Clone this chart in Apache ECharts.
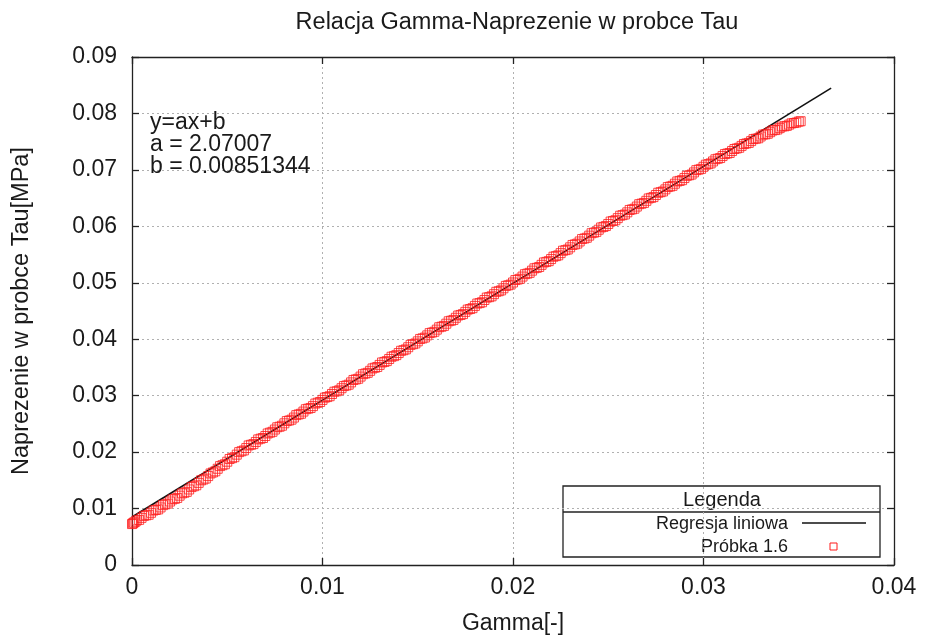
<!DOCTYPE html>
<html>
<head>
<meta charset="utf-8">
<script src="https://cdn.jsdelivr.net/npm/echarts@6/dist/echarts.min.js"></script>
<style>html,body{margin:0;padding:0;background:#fff}#c{width:925px;height:642px}</style>
</head>
<body>
<div id="c"></div>
<script>
// ---- data ----
const titleText = 'Relacja Gamma-Naprezenie w probce Tau';
const xName = 'Gamma[-]';
const yName = 'Naprezenie w probce Tau[MPa]';
const xTickLabels = ['0', '0.01', '0.02', '0.03', '0.04'];
const yTickLabels = ['0', '0.01', '0.02', '0.03', '0.04', '0.05', '0.06', '0.07', '0.08', '0.09'];
const fitText = ['y=ax+b', 'a = 2.07007', 'b = 0.00851344'];
const legendTitle = 'Legenda';
const lineName = 'Regresja liniowa';
const sampleName = 'Próbka 1.6';

// regression line end points
const fitLineX = [0, 0.0367];
const fitLineY = [0.00851, 0.08449];

// sample points (Gamma, Tau) - first set of readings
const gammaX = [
  0.00000, 0.00005, 0.00010, 0.00018, 0.00025, 0.00050, 0.00075, 0.00100, 0.00125, 0.00150,
  0.00175, 0.00200, 0.00225, 0.00250, 0.00275, 0.00300, 0.00325, 0.00350, 0.00375, 0.00400,
  0.00425, 0.00450, 0.00475, 0.00500, 0.00525, 0.00550, 0.00575, 0.00600, 0.00625, 0.00650,
  0.00675, 0.00700, 0.00725, 0.00750, 0.00775, 0.00800, 0.00825, 0.00850, 0.00875, 0.00900,
  0.00925, 0.00950, 0.00975, 0.01000, 0.01025, 0.01050, 0.01075, 0.01100, 0.01125, 0.01150,
  0.01175, 0.01200, 0.01225, 0.01250, 0.01275, 0.01300, 0.01325, 0.01350, 0.01375, 0.01400,
  0.01425, 0.01450, 0.01475, 0.01500, 0.01525, 0.01550, 0.01575, 0.01600, 0.01625, 0.01650,
  0.01675, 0.01700, 0.01725, 0.01750, 0.01775, 0.01800, 0.01825, 0.01850, 0.01875, 0.01900,
  0.01925, 0.01950, 0.01975, 0.02000, 0.02025, 0.02050, 0.02075, 0.02100, 0.02125, 0.02150,
  0.02175, 0.02200, 0.02225, 0.02250, 0.02275, 0.02300, 0.02325, 0.02350, 0.02375, 0.02400,
  0.02425, 0.02450, 0.02475, 0.02500, 0.02525, 0.02550, 0.02575, 0.02600, 0.02625, 0.02650,
  0.02675, 0.02700, 0.02725, 0.02750, 0.02775, 0.02800, 0.02825, 0.02850, 0.02875, 0.02900,
  0.02925, 0.02950, 0.02975, 0.03000, 0.03025, 0.03050, 0.03075, 0.03100, 0.03125, 0.03150,
  0.03175, 0.03200, 0.03225, 0.03250, 0.03275, 0.03300, 0.03325, 0.03350, 0.03375, 0.03400,
  0.03425, 0.03450, 0.03475, 0.03500
];
const tauY = [
  0.00725, 0.00738, 0.00752, 0.00768, 0.00790, 0.00835, 0.00880, 0.00925, 0.00975, 0.01020,
  0.01075, 0.01125, 0.01172, 0.01228, 0.01280, 0.01338, 0.01395, 0.01455, 0.01515, 0.01575,
  0.01640, 0.01705, 0.01768, 0.01830, 0.01893, 0.01955, 0.02015, 0.02072, 0.02130, 0.02180,
  0.02238, 0.02285, 0.02345, 0.02400, 0.02450, 0.02510, 0.02560, 0.02612, 0.02668, 0.02718,
  0.02770, 0.02815, 0.02875, 0.02925, 0.02975, 0.03030, 0.03078, 0.03132, 0.03180, 0.03235,
  0.03288, 0.03338, 0.03392, 0.03440, 0.03495, 0.03545, 0.03598, 0.03650, 0.03700, 0.03755,
  0.03805, 0.03858, 0.03912, 0.03962, 0.04015, 0.04068, 0.04118, 0.04170, 0.04222, 0.04275,
  0.04328, 0.04380, 0.04430, 0.04485, 0.04535, 0.04590, 0.04640, 0.04695, 0.04745, 0.04798,
  0.04850, 0.04902, 0.04955, 0.05005, 0.05058, 0.05110, 0.05162, 0.05215, 0.05265, 0.05318,
  0.05370, 0.05420, 0.05472, 0.05525, 0.05578, 0.05628, 0.05680, 0.05732, 0.05785, 0.05835,
  0.05888, 0.05940, 0.05990, 0.06042, 0.06095, 0.06145, 0.06198, 0.06248, 0.06300, 0.06350,
  0.06402, 0.06452, 0.06505, 0.06555, 0.06605, 0.06655, 0.06705, 0.06755, 0.06805, 0.06855,
  0.06905, 0.06955, 0.07005, 0.07055, 0.07102, 0.07150, 0.07198, 0.07245, 0.07290, 0.07335,
  0.07380, 0.07425, 0.07468, 0.07510, 0.07552, 0.07592, 0.07630, 0.07668, 0.07705, 0.07740,
  0.07772, 0.07802, 0.07830, 0.07855
];

// sample points (Gamma, Tau) - second set of readings (between the first ones)
const gammaX2 = [
  0.000375, 0.000625, 0.000875, 0.001125, 0.001375, 0.001625, 0.001875, 0.002125, 0.002375, 0.002625,
  0.002875, 0.003125, 0.003375, 0.003625, 0.003875, 0.004125, 0.004375, 0.004625, 0.004875, 0.005125,
  0.005375, 0.005625, 0.005875, 0.006125, 0.006375, 0.006625, 0.006875, 0.007125, 0.007375, 0.007625,
  0.007875, 0.008125, 0.008375, 0.008625, 0.008875, 0.009125, 0.009375, 0.009625, 0.009875, 0.010125,
  0.010375, 0.010625, 0.010875, 0.011125, 0.011375, 0.011625, 0.011875, 0.012125, 0.012375, 0.012625,
  0.012875, 0.013125, 0.013375, 0.013625, 0.013875, 0.014125, 0.014375, 0.014625, 0.014875, 0.015125,
  0.015375, 0.015625, 0.015875, 0.016125, 0.016375, 0.016625, 0.016875, 0.017125, 0.017375, 0.017625,
  0.017875, 0.018125, 0.018375, 0.018625, 0.018875, 0.019125, 0.019375, 0.019625, 0.019875, 0.020125,
  0.020375, 0.020625, 0.020875, 0.021125, 0.021375, 0.021625, 0.021875, 0.022125, 0.022375, 0.022625,
  0.022875, 0.023125, 0.023375, 0.023625, 0.023875, 0.024125, 0.024375, 0.024625, 0.024875, 0.025125,
  0.025375, 0.025625, 0.025875, 0.026125, 0.026375, 0.026625, 0.026875, 0.027125, 0.027375, 0.027625,
  0.027875, 0.028125, 0.028375, 0.028625, 0.028875, 0.029125, 0.029375, 0.029625, 0.029875, 0.030125,
  0.030375, 0.030625, 0.030875, 0.031125, 0.031375, 0.031625, 0.031875, 0.032125, 0.032375, 0.032625,
  0.032875, 0.033125, 0.033375, 0.033625, 0.033875, 0.034125, 0.034375, 0.034625, 0.034875, 0.035100
];
const tauY2 = [
  0.00800, 0.00870, 0.00890, 0.00965, 0.00985, 0.01060, 0.01088, 0.01162, 0.01188, 0.01268,
  0.01296, 0.01380, 0.01412, 0.01500, 0.01532, 0.01622, 0.01660, 0.01752, 0.01785, 0.01878,
  0.01910, 0.02000, 0.02030, 0.02118, 0.02142, 0.02225, 0.02250, 0.02330, 0.02360, 0.02440,
  0.02468, 0.02550, 0.02575, 0.02655, 0.02680, 0.02760, 0.02782, 0.02860, 0.02888, 0.02965,
  0.02990, 0.03070, 0.03095, 0.03170, 0.03195, 0.03278, 0.03300, 0.03380, 0.03405, 0.03482,
  0.03508, 0.03588, 0.03612, 0.03690, 0.03718, 0.03795, 0.03820, 0.03900, 0.03925, 0.04005,
  0.04030, 0.04108, 0.04132, 0.04212, 0.04236, 0.04318, 0.04342, 0.04420, 0.04445, 0.04525,
  0.04550, 0.04632, 0.04655, 0.04738, 0.04760, 0.04840, 0.04865, 0.04945, 0.04968, 0.05048,
  0.05072, 0.05152, 0.05176, 0.05256, 0.05280, 0.05360, 0.05383, 0.05462, 0.05486, 0.05568,
  0.05590, 0.05670, 0.05694, 0.05775, 0.05798, 0.05878, 0.05902, 0.05980, 0.06005, 0.06085,
  0.06108, 0.06188, 0.06210, 0.06290, 0.06312, 0.06392, 0.06415, 0.06494, 0.06518, 0.06595,
  0.06618, 0.06695, 0.06718, 0.06795, 0.06818, 0.06895, 0.06918, 0.06995, 0.07018, 0.07092,
  0.07115, 0.07188, 0.07210, 0.07280, 0.07300, 0.07370, 0.07392, 0.07458, 0.07478, 0.07545,
  0.07560, 0.07625, 0.07640, 0.07698, 0.07715, 0.07768, 0.07780, 0.07825, 0.07838, 0.07862
];

// ---- chart ----
const FONT = '"Liberation Sans", Arial, Helvetica, sans-serif';
const TXT = '#1a1a1a';
const AX = '#222';
const chart = echarts.init(document.getElementById('c'), null, { renderer: 'canvas' });

const lineData = fitLineX.map((x, i) => [x, fitLineY[i]]);
const pointData = gammaX.map((x, i) => [x, tauY[i]])
  .concat(gammaX2.map((x, i) => [x, tauY2[i]]));

const baseAxis = {
  axisLine: { show: true, onZero: false, lineStyle: { color: AX, width: 1.3 } },
  axisTick: { show: true, inside: true, length: 7, lineStyle: { color: AX, width: 1.3 } },
};

const option = {
  backgroundColor: '#fff',
  animation: false,
  textStyle: { fontFamily: FONT },
  title: {
    text: titleText,
    left: 512, top: 6, textAlign: 'center',
    textStyle: { fontFamily: FONT, fontSize: 23.5, fontWeight: 'normal', color: TXT }
  },
  grid: { left: 132, right: 31, top: 57, bottom: 77, containLabel: false },
  xAxis: [
    Object.assign({}, baseAxis, {
      type: 'value', min: 0, max: 0.04, interval: 0.01, position: 'bottom',
      name: xName, nameLocation: 'middle', nameGap: 47,
      nameTextStyle: { fontFamily: FONT, fontSize: 23, color: TXT },
      axisLabel: { margin: 11, fontSize: 23, color: TXT, fontFamily: FONT,
        formatter: v => xTickLabels[Math.round(v / 0.01)] },
      splitLine: { show: true, lineStyle: { color: '#b0b0b0', width: 1, type: [2, 3] } }
    }),
    Object.assign({}, baseAxis, {
      type: 'value', min: 0, max: 0.04, interval: 0.01, position: 'top',
      axisLabel: { show: false }, splitLine: { show: false }
    })
  ],
  yAxis: [
    Object.assign({}, baseAxis, {
      type: 'value', min: 0, max: 0.09, interval: 0.01, position: 'left',
      name: yName, nameLocation: 'middle', nameGap: 98,
      nameTextStyle: { fontFamily: FONT, fontSize: 23.5, color: TXT },
      axisLabel: { margin: 15, fontSize: 23, color: TXT, fontFamily: FONT,
        formatter: v => yTickLabels[Math.round(v / 0.01)] },
      splitLine: { show: true, lineStyle: { color: '#b0b0b0', width: 1, type: [2, 3] } }
    }),
    Object.assign({}, baseAxis, {
      type: 'value', min: 0, max: 0.09, interval: 0.01, position: 'right',
      axisLabel: { show: false }, splitLine: { show: false }
    })
  ],
  series: [
    {
      name: lineName, type: 'line', xAxisIndex: 0, yAxisIndex: 0,
      data: lineData, showSymbol: false, symbol: 'none',
      lineStyle: { color: '#111', width: 1.6 }, z: 3
    },
    {
      name: sampleName, type: 'scatter', xAxisIndex: 0, yAxisIndex: 0,
      data: pointData, symbol: 'rect', symbolSize: 9,
      itemStyle: { color: 'rgba(0,0,0,0)', borderColor: '#ff1a1a', borderWidth: 1 },
      z: 4
    }
  ],
  graphic: [
    {
      type: 'text', left: 150, top: 111, z: 10,
      style: { text: fitText.join('\n'), font: '23px ' + FONT, fill: TXT, lineHeight: 22 }
    },
    {
      type: 'group', z: 20,
      children: [
        { type: 'rect', shape: { x: 563, y: 486, width: 317, height: 71 },
          style: { fill: '#fff', stroke: AX, lineWidth: 1.3 } },
        { type: 'line', shape: { x1: 563, y1: 512, x2: 880, y2: 512 },
          style: { stroke: AX, lineWidth: 1.3 } },
        { type: 'text', x: 722, y: 500,
          style: { text: legendTitle, font: '20px ' + FONT, fill: TXT, align: 'center', verticalAlign: 'middle' } },
        { type: 'text', x: 788, y: 524,
          style: { text: lineName, font: '18px ' + FONT, fill: TXT, align: 'right', verticalAlign: 'middle' } },
        { type: 'line', shape: { x1: 802, y1: 523, x2: 866, y2: 523 },
          style: { stroke: '#111', lineWidth: 1.6 } },
        { type: 'text', x: 788, y: 547,
          style: { text: sampleName, font: '18px ' + FONT, fill: TXT, align: 'right', verticalAlign: 'middle' } },
        { type: 'rect', shape: { x: 830, y: 543, width: 7, height: 7 },
          style: { fill: 'none', stroke: '#ff1a1a', lineWidth: 1 } }
      ]
    }
  ]
};
chart.setOption(option);
</script>
</body>
</html>
